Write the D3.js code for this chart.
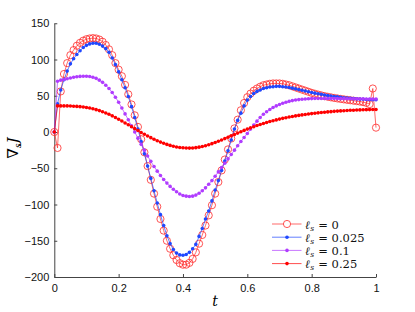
<!DOCTYPE html>
<html>
<head>
<meta charset="utf-8">
<script src="https://cdn.jsdelivr.net/npm/d3@7"></script>
<style>
	body { margin: 0; background: #fff; }
	svg { display: block; }
</style>
</head>
<body>
<div id="wrapper"></div>
<script>
// sample points t
const tValues = [
	0, 0.01, 0.02, 0.03, 0.04, 0.05, 0.06, 0.07, 0.08, 0.09,
	0.10, 0.11, 0.12, 0.13, 0.14, 0.15, 0.16, 0.17, 0.18, 0.19,
	0.20, 0.21, 0.22, 0.23, 0.24, 0.25, 0.26, 0.27, 0.28, 0.29,
	0.30, 0.31, 0.32, 0.33, 0.34, 0.35, 0.36, 0.37, 0.38, 0.39,
	0.40, 0.41, 0.42, 0.43, 0.44, 0.45, 0.46, 0.47, 0.48, 0.49,
	0.50, 0.51, 0.52, 0.53, 0.54, 0.55, 0.56, 0.57, 0.58, 0.59,
	0.60, 0.61, 0.62, 0.63, 0.64, 0.65, 0.66, 0.67, 0.68, 0.69,
	0.70, 0.71, 0.72, 0.73, 0.74, 0.75, 0.76, 0.77, 0.78, 0.79,
	0.80, 0.81, 0.82, 0.83, 0.84, 0.85, 0.86, 0.87, 0.88, 0.89,
	0.90, 0.91, 0.92, 0.93, 0.94, 0.95, 0.96, 0.97, 0.98, 0.99,
	1.00
]

// l_s = 0
const grad0 = [
	0, -22, 56, 80, 95, 106, 113, 119, 123, 126,
	128, 129, 129.5, 129, 127.5, 124.5, 120, 114, 106, 95,
	86, 77, 65, 52, 38, 23, 7, -10, -28, -47,
	-66, -85, -103, -120, -136, -150, -161, -170, -176.5, -181,
	-183, -183, -180.5, -175, -166, -154, -142, -129, -115, -101,
	-85, -69, -53, -38, -24, -9, 5, 17, 30, 40,
	48, 53, 57, 60, 62.5, 64.5, 65.5, 66.5, 67, 67,
	67, 66.5, 65.5, 64.5, 63, 61.5, 60, 58.5, 57, 55.5,
	54, 52.8, 51.6, 50.5, 49.5, 48.6, 47.8, 47, 46.3, 45.6,
	45, 44.4, 43.8, 43.2, 42.6, 42, 41.2, 40.2, 38.5, 60,
	6
]

// l_s = 0.025
const grad025 = [
	0, 39, 58, 72, 84, 94, 101, 107, 112, 116.5,
	119.5, 121.5, 122.5, 122.5, 121, 118.5, 115, 110, 102, 93,
	83, 72, 61, 49, 35, 20, 4, -13, -30, -47,
	-64, -81, -98, -114, -129, -143, -154, -162, -167, -169.5,
	-170, -169, -166, -161, -155, -144, -133, -120, -109, -95,
	-80, -67, -53, -40, -26, -11, 4, 16, 26, 36,
	44, 49, 53, 56, 58, 60, 61, 62, 62.5, 63,
	63, 62.5, 62, 61.3, 60.5, 59.5, 58.5, 57.5, 56.5, 55.5,
	54.5, 53.6, 52.7, 51.9, 51.1, 50.4, 49.7, 49, 48.4, 47.8,
	47.3, 46.8, 46.4, 46, 45.7, 45.4, 45.1, 44.9, 44.7, 44.6,
	44.5
]

// l_s = 0.1
const grad1 = [
	0, 70, 71.5, 72.5, 73.5, 74.5, 75.5, 76.2, 76.7, 77,
	77, 76.5, 75.5, 74, 71.5, 68.5, 64.5, 60, 54.5, 48,
	41, 33, 25, 17, 8.5, 0, -8.5, -17, -25, -33,
	-40.5, -47.5, -54, -60, -65.5, -70.5, -75, -79, -82.5, -85.5,
	-87.5, -88.5, -89, -88.5, -87, -84.5, -81, -77, -72, -67,
	-61, -55, -49, -43, -37, -31, -25, -19, -13, -7.5,
	-2, 4, 9.5, 15, 20, 24.5, 28, 31, 33.8, 36,
	38, 39.7, 41, 42.3, 43.3, 44.1, 44.7, 45.2, 45.6, 45.9,
	46.1, 46.2, 46.3, 46.3, 46.3, 46.3, 46.2, 46.2, 46.1, 46,
	46, 45.9, 45.9, 45.8, 45.8, 45.7, 45.7, 45.6, 45.6, 45.5,
	45.5
]

// l_s = 0.25
const grad25 = [
	0, 36, 36, 36, 36, 35.8, 35.6, 35.3, 35, 34.5,
	33.8, 33, 32, 30.8, 29.5, 28, 26.3, 24.4, 22.3, 20,
	17.6, 15.1, 12.5, 9.9, 7.3, 4.6, 2, -0.6, -3.1, -5.5,
	-7.8, -10, -12, -13.9, -15.6, -17.1, -18.5, -19.6, -20.6, -21.3,
	-21.8, -22.1, -22.2, -22, -21.6, -20.9, -20, -18.9, -17.6, -16.1,
	-14.5, -12.8, -11, -9.1, -7.2, -5.3, -3.4, -1.5, 0.4, 2.2,
	4, 5.7, 7.3, 8.9, 10.4, 11.8, 13.1, 14.4, 15.6, 16.7,
	17.8, 18.8, 19.7, 20.6, 21.4, 22.2, 22.9, 23.6, 24.2, 24.8,
	25.4, 25.9, 26.4, 26.9, 27.3, 27.7, 28.1, 28.5, 28.8, 29.1,
	29.4, 29.7, 29.9, 30.1, 30.3, 30.5, 30.7, 30.8, 30.9, 31,
	31
]

const legendLabels = ['0', '0.025', '0.1', '0.25']
const xTicks = [0, 0.2, 0.4, 0.6, 0.8, 1]
const yTicks = [-200, -150, -100, -50, 0, 50, 100, 150]

function drawPlot() {
	const series = [
		{ values: grad0, label: legendLabels[0], color: '#ff2a2a', marker: 'open' },
		{ values: grad025, label: legendLabels[1], color: '#1f48ff', marker: 'dot' },
		{ values: grad1, label: legendLabels[2], color: '#b03cff', marker: 'dot' },
		{ values: grad25, label: legendLabels[3], color: '#ff0000', marker: 'dot' }
	]

	// Chart Dimensions
	let dimensions = {
		width: 415,
		height: 312,
		margin: { top: 23.25, right: 39, bottom: 35, left: 54.3 }
	}
	dimensions.boundedWidth = dimensions.width - dimensions.margin.left - dimensions.margin.right
	dimensions.boundedHeight = dimensions.height - dimensions.margin.top - dimensions.margin.bottom

	const wrapper = d3.select('#wrapper')
		.append('svg')
			.attr('width', dimensions.width)
			.attr('height', dimensions.height)

	const bounds = wrapper.append('g')
		.attr('transform', `translate(${dimensions.margin.left},${dimensions.margin.top})`)

	// Scales
	const xScale = d3.scaleLinear()
		.domain([0, 1])
		.range([0, dimensions.boundedWidth])

	const yScale = d3.scaleLinear()
		.domain([-200, 150])
		.range([dimensions.boundedHeight, 0])

	// Axes (inward ticks, no box)
	const yAxis = bounds.append('g')
		.call(d3.axisLeft(yScale)
			.tickValues(yTicks)
			.tickSizeInner(-3)
			.tickSizeOuter(0)
			.tickPadding(5)
			.tickFormat(d3.format('')))
	const xAxis = bounds.append('g')
		.attr('transform', `translate(0,${dimensions.boundedHeight})`)
		.call(d3.axisBottom(xScale)
			.tickValues(xTicks)
			.tickSizeInner(-3)
			.tickSizeOuter(0)
			.tickPadding(7)
			.tickFormat(d => d))

	;[xAxis, yAxis].forEach(ax => {
		ax.select('.domain').attr('stroke', '#444').attr('stroke-width', 1)
		ax.selectAll('.tick line').attr('stroke', '#444')
		ax.selectAll('.tick text')
			.attr('fill', '#111')
			.style('font-family', '"Liberation Sans", Arial, sans-serif')
			.style('font-size', '11px')
	})

	// Lines and markers
	const lineGen = d3.line()
		.x((d, i) => xScale(tValues[i]))
		.y(d => yScale(d))

	series.forEach(s => {
		bounds.append('path')
			.datum(s.values)
			.attr('d', lineGen)
			.attr('fill', 'none')
			.attr('stroke', s.color)
			.attr('stroke-width', 0.7)

		bounds.append('g')
			.selectAll('circle')
			.data(s.values)
			.join('circle')
				.attr('cx', (d, i) => xScale(tValues[i]))
				.attr('cy', d => yScale(d))
				.attr('r', s.marker === 'open' ? 3.6 : 1.8)
				.attr('fill', s.marker === 'open' ? 'none' : s.color)
				.attr('stroke', s.color)
				.attr('stroke-width', s.marker === 'open' ? 0.8 : 0)
	})

	// Legend
	const legend = wrapper.append('g')
		.attr('transform', 'translate(272, 224)')
	series.forEach((s, i) => {
		const row = legend.append('g')
			.attr('transform', `translate(0, ${i * 13.2})`)
		row.append('line')
			.attr('x1', 0).attr('x2', 29.5)
			.attr('stroke', s.color)
			.attr('stroke-width', 0.7)
		row.append('circle')
			.attr('cx', 15).attr('cy', 0)
			.attr('r', s.marker === 'open' ? 3.6 : 1.8)
			.attr('fill', s.marker === 'open' ? '#fff' : s.color)
			.attr('stroke', s.color)
			.attr('stroke-width', s.marker === 'open' ? 0.8 : 0)
		const label = row.append('text')
			.attr('x', 33)
			.attr('y', 4.5)
			.style('font-family', '"DejaVu Serif", serif')
			.style('font-size', '11.5px')
			.attr('fill', '#111')
		label.append('tspan').style('font-style', 'italic').text('ℓ')
		label.append('tspan').attr('dx', 0.5).attr('dy', 2).style('font-size', '7.5px').style('font-style', 'italic').text('s')
		label.append('tspan').attr('dx', 0.5).attr('dy', -2).text(` = ${s.label}`)
	})

	// Axis titles
	wrapper.append('text')
		.attr('x', dimensions.margin.left + dimensions.boundedWidth / 2)
		.attr('y', 306)
		.attr('text-anchor', 'middle')
		.style('font-family', '"DejaVu Serif", serif')
		.style('font-style', 'italic')
		.style('font-size', '14px')
		.text('t')

	const yTitle = wrapper.append('text')
		.attr('transform', 'translate(18, 148) rotate(-90)')
		.attr('text-anchor', 'middle')
		.style('font-family', '"DejaVu Serif", serif')
		.style('font-size', '15px')
	yTitle.append('tspan').text('∇')
	yTitle.append('tspan').attr('dy', 3).style('font-size', '9px').style('font-style', 'italic').text('s')
	yTitle.append('tspan').attr('dy', -3).style('font-style', 'italic').text('J')
}
drawPlot()
</script>
</body>
</html>
